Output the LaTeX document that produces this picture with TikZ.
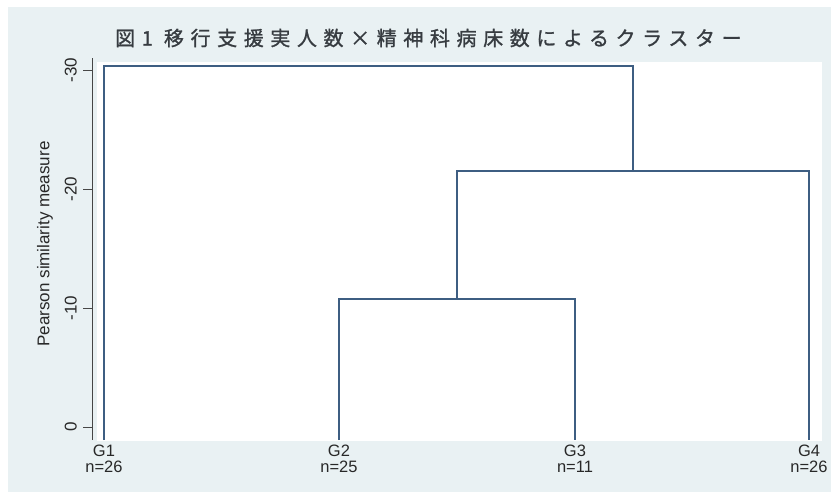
\documentclass[tikz,border=0pt]{standalone}
\usepackage{fontspec}
\setmainfont{Liberation Sans}
\newfontfamily\jfont[LetterSpace=33,FakeBold=1.2]{Noto Sans CJK JP}
\definecolor{bgc}{RGB}{233,241,243}
\definecolor{linec}{RGB}{62,94,130}
\definecolor{axc}{RGB}{70,70,70}
\definecolor{txtc}{RGB}{40,40,40}
\definecolor{titc}{RGB}{55,60,65}
\begin{document}
\begin{tikzpicture}[x=1pt,y=-1pt,
  dl/.style={draw=linec,line width=2pt,line join=miter},
  lab/.style={font=\fontsize{17}{17}\selectfont,text=txtc,inner sep=0pt},
  xlab/.style={lab,font=\fontsize{16.5}{16.5}\selectfont,anchor=base,text height=11.5pt,text depth=0pt},
  ticklab/.style={lab,rotate=90,anchor=south},
  tickmark/.style={draw=axc,line width=0.8pt}]
\useasboundingbox (0,0) rectangle (831,496);
\fill[white] (0,0) rectangle (831,496);
\fill[bgc] (8,7) rectangle (831,492);
\fill[white] (97,62) rectangle (822,441);
% title
\node[inner sep=0pt,text=titc,anchor=west,font=\jfont\fontsize{20}{20}\selectfont] (title) at (115,38) {図1 移行支援実人数×精神科病床数によるクラスター};
% axis
\coordinate (axtop) at (92,58);
\coordinate (axbot) at (92,440);
\draw[tickmark] (axtop) -- (axbot);
\foreach \v/\yy in {-30/70,-20/189,-10/308,0/427}{
  \coordinate (t\v) at (92,\yy);
  \coordinate (tl\v) at (83,\yy);
  \draw[tickmark] (tl\v) -- (t\v);
  \node[ticklab] (lab\v) at (77,\yy) {\v};
}
\node[lab,rotate=90] (ytitle) at (45,244) {Pearson similarity measure};
% leaves
\coordinate (g1) at (104,440);
\coordinate (g2) at (339,440);
\coordinate (g3) at (575,440);
\coordinate (g4) at (809,440);
\coordinate (m23) at (457,299);
\coordinate (m234) at (633,171);
\coordinate (root) at (368,66);
\draw[dl] (g2) |- (m23) -| (g3);
\draw[dl] (m23) |- (m234) -| (g4);
\draw[dl] (g1) |- (root) -| (m234);
% x labels
\foreach \n/\xx/\c in {1/104/26,2/339/25,3/575/11,4/809/26}{
  \node[xlab] (G\n) at (\xx,456.5) {G\n};
  \node[xlab] (N\n) at (\xx,472.5) {n=\c};
}
\end{tikzpicture}
\end{document}
